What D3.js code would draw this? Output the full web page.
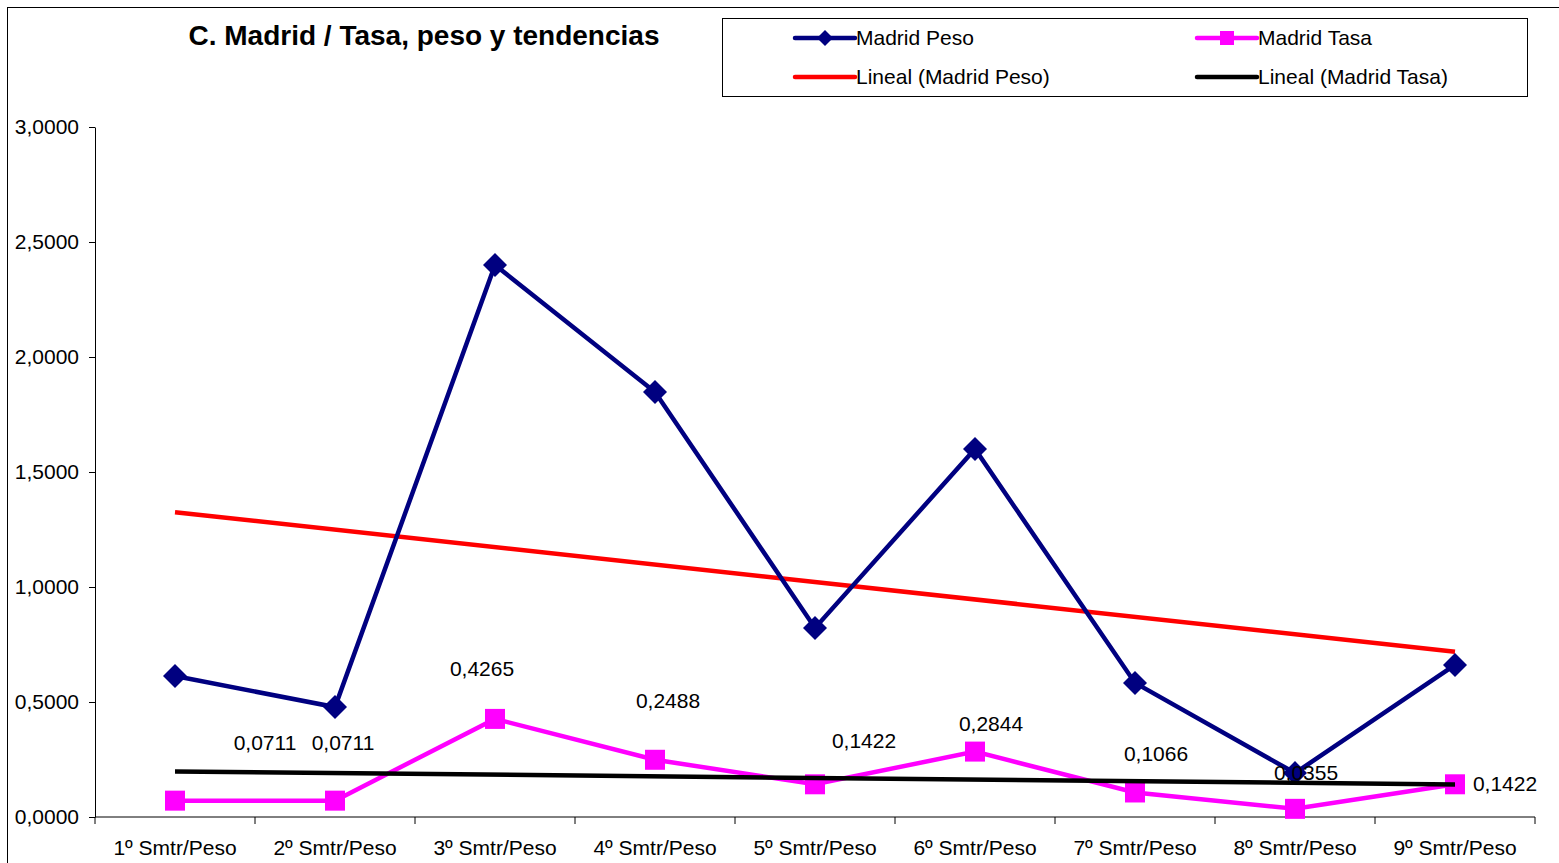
<!DOCTYPE html>
<html>
<head>
<meta charset="utf-8">
<script src="https://cdnjs.cloudflare.com/ajax/libs/d3/7.8.5/d3.min.js"></script>
<style>
  body { margin: 0; background: #fff; }
  text { font-family: "Liberation Sans", Arial, sans-serif; }
</style>
</head>
<body>
<div id="chart"></div>
<script>
// data
var categories = ["1º Smtr/Peso", "2º Smtr/Peso", "3º Smtr/Peso", "4º Smtr/Peso", "5º Smtr/Peso",
                  "6º Smtr/Peso", "7º Smtr/Peso", "8º Smtr/Peso", "9º Smtr/Peso"];
var pesoValues = [0.613, 0.478, 2.40, 1.848, 0.822, 1.60, 0.583, 0.191, 0.661];
var tasaValues = [0.0711, 0.0711, 0.4265, 0.2488, 0.1422, 0.2844, 0.1066, 0.0355, 0.1422];
var yTicks = [0, 0.5, 1, 1.5, 2, 2.5, 3];
// label nudges (Excel labels were dragged by hand)
var labelShift = [[90, -58], [8, -58], [-13, -50], [13, -59], [49, -44], [16, -28], [21, -39], [11, -36], [50, -1]];

var width = 1559, height = 863;
var plotL = 95, plotR = 1535, plotT = 127, plotB = 817;

var svg = d3.select("#chart").append("svg")
  .attr("width", width)
  .attr("height", height);

// outer frame
svg.append("rect")
  .attr("x", 7.5).attr("y", 7.5)
  .attr("width", width + 20).attr("height", height + 20)
  .attr("fill", "none").attr("stroke", "#000").attr("stroke-width", 1);

var x = d3.scaleBand().domain(categories).range([plotL, plotR]);
var y = d3.scaleLinear().domain([0, 3]).range([plotB, plotT]);
var cx = function(i) { return x(categories[i]) + x.bandwidth() / 2; };

var fmt = function(v) { return d3.format(".4f")(v).replace(".", ","); };

// linear trend (least squares, like Excel "Lineal")
function trend(vals) {
  var n = vals.length, xs = d3.range(1, n + 1);
  var mx = d3.mean(xs), my = d3.mean(vals);
  var sxy = d3.sum(xs, function(v, i) { return (v - mx) * (vals[i] - my); });
  var sxx = d3.sum(xs, function(v) { return (v - mx) * (v - mx); });
  var b = sxy / sxx, a = my - b * mx;
  return [a + b * 1, a + b * n];
}

// y axis
var yAxis = svg.append("g")
  .attr("transform", "translate(" + plotL + ",0)")
  .call(d3.axisLeft(y).tickValues(yTicks).tickSize(6).tickSizeOuter(0).tickFormat(fmt));
yAxis.selectAll("text").style("font-size", "21px").attr("fill", "#000").attr("dx", "-7");
yAxis.select(".domain").attr("stroke", "#000");

// x axis with ticks between categories
var xg = svg.append("g").attr("transform", "translate(0," + plotB + ")");
xg.append("line").attr("x1", plotL).attr("x2", plotR).attr("stroke", "#000");
xg.selectAll(".tk")
  .data(d3.range(categories.length + 1))
  .enter().append("line")
  .attr("x1", function(i) { return plotL + i * x.bandwidth(); })
  .attr("x2", function(i) { return plotL + i * x.bandwidth(); })
  .attr("y1", 0).attr("y2", 7)
  .attr("stroke", "#000");
xg.selectAll(".lbl")
  .data(categories)
  .enter().append("text")
  .attr("x", function(d, i) { return cx(i); })
  .attr("y", 38)
  .attr("text-anchor", "middle")
  .style("font-size", "21px")
  .text(function(d) { return d; });

var line = d3.line()
  .x(function(d, i) { return cx(i); })
  .y(function(d) { return y(d); });

// trend lines
var tp = trend(pesoValues), tt = trend(tasaValues);
svg.append("line")
  .attr("x1", cx(0)).attr("x2", cx(8))
  .attr("y1", y(tp[0])).attr("y2", y(tp[1]))
  .attr("stroke", "#ff0000").attr("stroke-width", 4.5);

// peso
svg.append("path")
  .datum(pesoValues)
  .attr("d", line)
  .attr("fill", "none")
  .attr("stroke", "#000080")
  .attr("stroke-width", 4.5);
svg.selectAll(".diamond")
  .data(pesoValues)
  .enter().append("path")
  .attr("d", "M0,-12L12,0L0,12L-12,0Z")
  .attr("transform", function(d, i) { return "translate(" + cx(i) + "," + y(d) + ")"; })
  .attr("fill", "#000080");

// tasa
svg.append("path")
  .datum(tasaValues)
  .attr("d", line)
  .attr("fill", "none")
  .attr("stroke", "#ff00ff")
  .attr("stroke-width", 4.5);
svg.selectAll(".square")
  .data(tasaValues)
  .enter().append("rect")
  .attr("x", function(d, i) { return cx(i) - 10; })
  .attr("y", function(d) { return y(d) - 10; })
  .attr("width", 20).attr("height", 20)
  .attr("fill", "#ff00ff");

svg.append("line")
  .attr("x1", cx(0)).attr("x2", cx(8))
  .attr("y1", y(tt[0])).attr("y2", y(tt[1]))
  .attr("stroke", "#000").attr("stroke-width", 4.5);

// data labels for tasa
svg.selectAll(".dl")
  .data(tasaValues)
  .enter().append("text")
  .attr("x", function(d, i) { return cx(i) + labelShift[i][0]; })
  .attr("y", function(d, i) { return y(d) + labelShift[i][1]; })
  .attr("dy", "0.35em")
  .attr("text-anchor", "middle")
  .style("font-size", "21px")
  .text(function(d) { return fmt(d); });

// title
svg.append("text")
  .attr("x", 424).attr("y", 45)
  .attr("text-anchor", "middle")
  .style("font-size", "28px")
  .style("font-weight", "bold")
  .text("C. Madrid / Tasa, peso y tendencias");

// legend
var lg = svg.append("g");
lg.append("rect")
  .attr("x", 722.5).attr("y", 18.5).attr("width", 805).attr("height", 78)
  .attr("fill", "#fff").attr("stroke", "#000");
var legendItems = [
  { name: "Madrid Peso", color: "#000080", mark: "diamond", col: 0, row: 0 },
  { name: "Madrid Tasa", color: "#ff00ff", mark: "square", col: 1, row: 0 },
  { name: "Lineal (Madrid Peso)", color: "#ff0000", mark: null, col: 0, row: 1 },
  { name: "Lineal (Madrid Tasa)", color: "#000", mark: null, col: 1, row: 1 }
];
var item = lg.selectAll(".item")
  .data(legendItems)
  .enter().append("g")
  .attr("transform", function(d) { return "translate(" + (d.col ? 1197 : 795) + "," + (d.row ? 77 : 38) + ")"; });
item.append("line")
  .attr("x1", 0).attr("x2", 60)
  .attr("stroke", function(d) { return d.color; })
  .attr("stroke-width", 4.5)
  .attr("stroke-linecap", "round");
item.filter(function(d) { return d.mark == "diamond"; })
  .append("path")
  .attr("d", "M30,-8L38,0L30,8L22,0Z")
  .attr("fill", function(d) { return d.color; });
item.filter(function(d) { return d.mark == "square"; })
  .append("rect")
  .attr("x", 23).attr("y", -7).attr("width", 14).attr("height", 14)
  .attr("fill", function(d) { return d.color; });
item.append("text")
  .attr("x", 61).attr("dy", "0.35em")
  .style("font-size", "21px")
  .text(function(d) { return d.name; });
</script>
</body>
</html>
